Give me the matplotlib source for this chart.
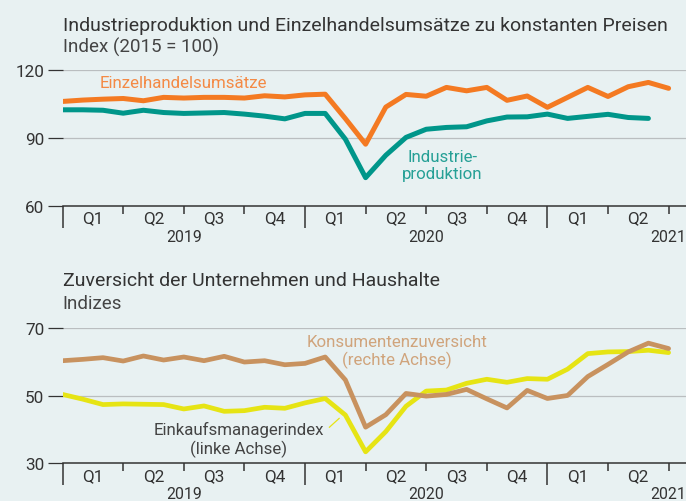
import numpy as np
import matplotlib
matplotlib.use("Agg")
import matplotlib.pyplot as plt

plt.rcParams['font.family'] = ['Roboto', 'DejaVu Sans']

# monthly data, Jan 2019 = 0
einzelhandel = [106.1, 106.7, 107.1, 107.4, 106.4, 107.9, 107.6, 107.9, 107.9, 107.6,
                108.6, 108.1, 109.0, 109.3, 98.5, 87.2, 103.6, 109.2, 108.4, 112.3,
                110.8, 112.3, 106.6, 108.5, 103.5, 107.9, 112.3, 108.3, 112.6, 114.5,
                111.9]
industrie = [102.4, 102.4, 102.2, 100.9, 102.2, 101.2, 100.8, 101.0, 101.2, 100.5,
             99.6, 98.4, 100.8, 100.8, 89.4, 72.4, 82.3, 90.2, 93.8, 94.6,
             94.9, 97.5, 99.2, 99.3, 100.5, 98.6, 99.5, 100.4, 99.0, 98.6]
einkauf = [50.4, 49.0, 47.4, 47.6, 47.5, 47.4, 46.1, 47.0, 45.4, 45.6,
           46.6, 46.3, 47.9, 49.2, 44.3, 33.4, 39.4, 46.9, 51.4, 51.7,
           53.7, 54.9, 54.0, 55.1, 54.9, 57.9, 62.5, 63.0, 63.1, 63.5,
           62.8]
konsum = [60.4, 60.8, 61.3, 60.3, 61.8, 60.6, 61.5, 60.4, 61.7, 60.0,
          60.4, 59.2, 59.6, 61.5, 54.7, 40.7, 44.4, 50.7, 49.9, 50.4,
          51.9, 49.1, 46.4, 51.6, 49.2, 50.1, 55.7, 59.3, 63.0, 65.6,
          64.0]

quarters = ['Q1', 'Q2', 'Q3', 'Q4', 'Q1', 'Q2', 'Q3', 'Q4', 'Q1', 'Q2']
years = ['2019', '2020', '2021']

BG = '#e8f1f2'
DARK = '#333333'
ORANGE = '#f47a22'
TEAL = '#00968a'
BROWN = '#c8925f'
YELLOW = '#e6e414'

W, H = 686, 502
fig = plt.figure(figsize=(W / 100, H / 100), dpi=100, facecolor=BG)

x0_px = 62.6
month_px = 20.2
xmax = (W - x0_px) / month_px


def make_axes(bottom_px, top_px, ylim, yticks):
    ax = fig.add_axes([x0_px / W, 1 - bottom_px / H, 1 - x0_px / W, (bottom_px - top_px) / H])
    ax.set_facecolor(BG)
    ax.set_xlim(0, xmax)
    ax.set_ylim(*ylim)
    for s in ['top', 'right', 'left']:
        ax.spines[s].set_visible(False)
    ax.spines['bottom'].set_color(DARK)
    ax.spines['bottom'].set_linewidth(1.1)
    ax.set_yticks(yticks)
    ax.set_yticklabels([str(t) for t in yticks])
    ax.tick_params(axis='y', length=10.8, width=0.9, color=DARK, pad=2.5,
                   labelsize=12.3, labelcolor=DARK)
    for t in yticks[1:]:
        ax.axhline(t, color='#babec0', lw=0.9, zorder=0)
    ax.set_xticks([0, 12, 24])
    ax.set_xticks([3, 6, 9, 15, 18, 21, 27, 30], minor=True)
    ax.tick_params(axis='x', which='major', length=15.8, width=1.1, color=DARK, labelbottom=False)
    ax.tick_params(axis='x', which='minor', length=5.5, width=1.1, color=DARK, labelbottom=False)
    for i, q in enumerate(quarters):
        ax.annotate(q, xy=(1.5 + 3 * i, 0), xycoords=('data', 'axes fraction'),
                    xytext=(0, -8.9), textcoords='offset points',
                    ha='center', va='center', fontsize=12.3, color=DARK)
    for i, y in enumerate(years):
        ax.annotate(y, xy=(6 + 12 * i, 0), xycoords=('data', 'axes fraction'),
                    xytext=(0, -22), textcoords='offset points',
                    ha='center', va='center', fontsize=11.4, color=DARK)
    return ax


# top panel
ax1 = make_axes(206.7, 71, (60, 120), [60, 90, 120])
ax1.plot(range(len(industrie)), industrie, color=TEAL, lw=3.6,
         solid_capstyle='round', solid_joinstyle='round')
ax1.plot(range(len(einzelhandel)), einzelhandel, color=ORANGE, lw=3.6,
         solid_capstyle='round', solid_joinstyle='round')
ax1.text(6.0, 114.4, 'Einzelhandelsumsätze', color='#f48a45', fontsize=12.2,
         ha='center', va='center')
ax1.text(18.8, 77.9, 'Industrie-\nproduktion', color='#26a096', fontsize=12.2,
         ha='center', va='center', linespacing=1.15)

fig.text(x0_px / W, 1 - 31 / H, 'Industrieproduktion und Einzelhandelsumsätze zu konstanten Preisen',
         fontsize=14, color=DARK, va='baseline', ha='left')
fig.text(x0_px / W, 1 - 52.3 / H, 'Index (2015 = 100)',
         fontsize=13.5, color='#444444', va='baseline', ha='left')

# bottom panel
ax2 = make_axes(464.3, 329.3, (30, 70), [30, 50, 70])
ax2.plot(range(len(einkauf)), einkauf, color=YELLOW, lw=3.4,
         solid_capstyle='round', solid_joinstyle='round')
ax2r = ax2.twinx()
ax2r.set_ylim(30, 70)
ax2r.axis('off')
ax2r.plot(range(len(konsum)), konsum, color=BROWN, lw=3.4,
          solid_capstyle='round', solid_joinstyle='round')
ax2.text(16.54, 63.3, 'Konsumentenzuversicht\n(rechte Achse)', color='#d0a47c', fontsize=12.2,
         ha='center', va='center', linespacing=1.15)
ax2.text(8.71, 37.2, 'Einkaufsmanagerindex\n(linke Achse)', color='#444444', fontsize=12.2,
         ha='center', va='center', linespacing=1.15)
ax2.annotate('', xy=(13.8, 43.9), xytext=(13.1, 40.1),
             arrowprops=dict(arrowstyle='-', color=YELLOW, lw=0.9))

fig.text(x0_px / W, 1 - 285.7 / H, 'Zuversicht der Unternehmen und Haushalte',
         fontsize=14, color=DARK, va='baseline', ha='left')
fig.text(x0_px / W, 1 - 309.3 / H, 'Indizes',
         fontsize=13.5, color='#444444', va='baseline', ha='left')

fig.savefig('out.png', dpi=100, facecolor=BG)
